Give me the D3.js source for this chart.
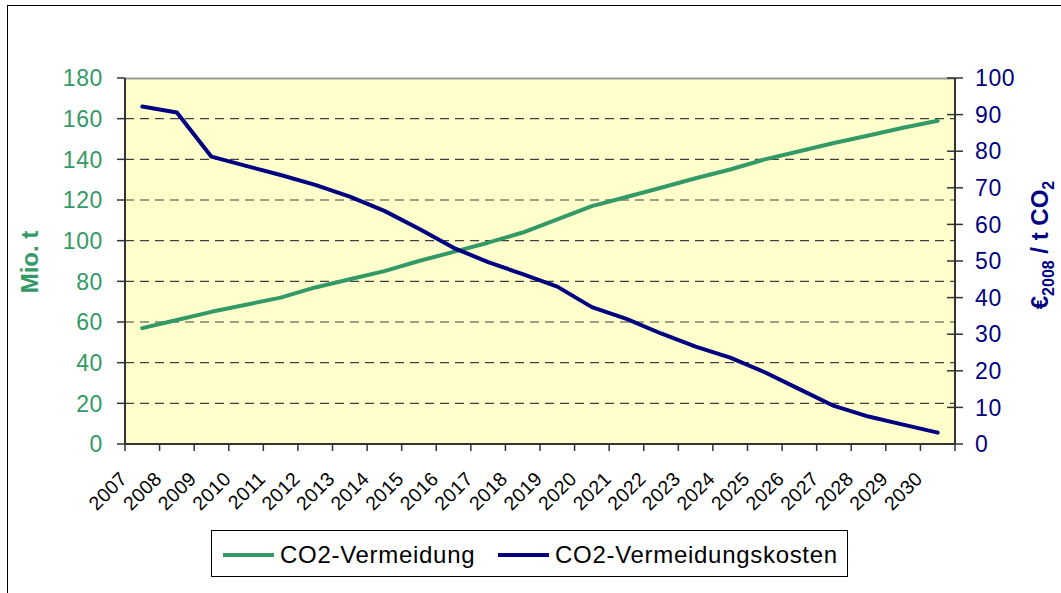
<!DOCTYPE html>
<meta charset="utf-8">
<style>
body { margin: 0; background: #fff; }
svg { font-family: "Liberation Sans", Arial, sans-serif; }
.grid line { stroke: #404040; stroke-width: 1.2px; stroke-dasharray: 9,6; }
.line { fill: none; stroke-width: 4px; stroke-linejoin: round; stroke-linecap: round; }
</style>
<svg width="1061" height="593"></svg>
<script src="https://cdn.jsdelivr.net/npm/d3@7"></script>
<script>

// years on the category axis
var years = d3.range(2007, 2031).map(String);

// CO2-Vermeidung (Mio. t, left axis)
var vermeidung = [57, 61, 65, 68.5, 72, 77, 81, 85, 90, 94.5, 99, 104, 110.5, 117, 121.5, 126, 130.7, 135, 140, 144, 148, 151.7, 155.5, 159];

// CO2-Vermeidungskosten (EUR2008 / t CO2, right axis)
var kosten = [92.2, 90.6, 78.5, 76, 73.5, 70.8, 67.6, 63.7, 58.8, 53.6, 49.7, 46.4, 43, 37.4, 34.2, 30.2, 26.6, 23.6, 19.6, 15, 10.4, 7.5, 5.3, 3.1];

var leftTicks = d3.range(0, 181, 20);
var rightTicks = d3.range(0, 101, 10);

var green = "#339966", navy = "#000080";

var svg = d3.select("svg"),
    margin = {top: 78, right: 106, bottom: 149, left: 125},
    width = 1061 - margin.left - margin.right,
    height = 593 - margin.top - margin.bottom;

// outer chart border
svg.append("rect")
    .attr("x", 7.5).attr("y", 5.5)
    .attr("width", 1070).attr("height", 600)
    .attr("fill", "#fff").attr("stroke", "#000").attr("stroke-width", 1);

var g = svg.append("g").attr("transform", "translate(" + margin.left + "," + margin.top + ")");

var x = d3.scaleBand().domain(years).range([0, width]).padding(0),
    yL = d3.scaleLinear().domain([0, 180]).range([height, 0]),
    yR = d3.scaleLinear().domain([0, 100]).range([height, 0]);

// plot area
g.append("rect")
    .attr("width", width).attr("height", height)
    .attr("fill", "#ffffcc");
g.append("line")
    .attr("x1", 0).attr("x2", width).attr("y1", 0.5).attr("y2", 0.5)
    .attr("stroke", "#999").attr("stroke-width", 2);

// dashed gridlines
g.append("g").attr("class", "grid")
  .selectAll("line")
  .data(leftTicks.filter(function(d) { return d > 0 && d < 180; }))
  .enter().append("line")
    .attr("x1", 0).attr("x2", width)
    .attr("y1", function(d) { return yL(d); })
    .attr("y2", function(d) { return yL(d); });

// left axis
var la = g.append("g");
la.append("line").attr("x1", 0).attr("x2", 0).attr("y1", 0).attr("y2", height)
    .attr("stroke", "#333").attr("stroke-width", 2);
la.selectAll(".tk").data(leftTicks).enter().append("line")
    .attr("x1", -8).attr("x2", 0)
    .attr("y1", function(d) { return yL(d); }).attr("y2", function(d) { return yL(d); })
    .attr("stroke", "#333").attr("stroke-width", 1.5);
la.selectAll("text").data(leftTicks).enter().append("text")
    .attr("x", -22).attr("y", function(d) { return yL(d); })
    .attr("dy", "0.36em").attr("text-anchor", "end")
    .style("font-size", "23px").style("letter-spacing", "0.6px")
    .attr("fill", green)
    .text(function(d) { return d; });

// right axis
var ra = g.append("g").attr("transform", "translate(" + width + ",0)");
ra.append("line").attr("x1", 0).attr("x2", 0).attr("y1", 0).attr("y2", height)
    .attr("stroke", "#333").attr("stroke-width", 2);
ra.selectAll(".tk").data(rightTicks).enter().append("line")
    .attr("x1", -8).attr("x2", 8)
    .attr("y1", function(d) { return yR(d); }).attr("y2", function(d) { return yR(d); })
    .attr("stroke", "#333").attr("stroke-width", 1.5);
ra.selectAll("text").data(rightTicks).enter().append("text")
    .attr("x", 20).attr("y", function(d) { return yR(d); })
    .attr("dy", "0.36em").attr("text-anchor", "start")
    .style("font-size", "23px").style("letter-spacing", "0.6px")
    .attr("fill", navy)
    .text(function(d) { return d; });

// bottom axis
var ba = g.append("g").attr("transform", "translate(0," + height + ")");
ba.append("line").attr("x1", 0).attr("x2", width).attr("y1", 0).attr("y2", 0)
    .attr("stroke", "#333").attr("stroke-width", 2);
ba.selectAll(".tk").data(years.concat(["end"])).enter().append("line")
    .attr("x1", function(d) { return d === "end" ? width : x(d); })
    .attr("x2", function(d) { return d === "end" ? width : x(d); })
    .attr("y1", 0).attr("y2", 7)
    .attr("stroke", "#333").attr("stroke-width", 1.5);
ba.selectAll("text").data(years).enter().append("text")
    .attr("transform", function(d) {
      return "translate(" + (x(d) + x.bandwidth() / 2 - 14) + ",36) rotate(-45)";
    })
    .attr("text-anchor", "end")
    .style("font-size", "19.5px").style("letter-spacing", "0.3px")
    .attr("fill", "#000")
    .text(function(d) { return d; });

// lines
var cx = function(i) { return x(years[i]) + x.bandwidth() / 2; };

g.append("path")
    .datum(vermeidung)
    .attr("class", "line")
    .attr("stroke", green)
    .attr("d", d3.line().x(function(d, i) { return cx(i); }).y(function(d) { return yL(d); }));

g.append("path")
    .datum(kosten)
    .attr("class", "line")
    .attr("stroke", navy)
    .attr("d", d3.line().x(function(d, i) { return cx(i); }).y(function(d) { return yR(d); }));

// axis titles
svg.append("text")
    .attr("transform", "translate(38,262) rotate(-90)")
    .attr("text-anchor", "middle")
    .style("font-size", "24px").style("font-weight", "bold")
    .attr("fill", green)
    .text("Mio. t");

var rt = svg.append("text")
    .attr("transform", "translate(1048,245) rotate(-90)")
    .attr("text-anchor", "middle")
    .style("font-size", "24px").style("font-weight", "bold")
    .attr("fill", navy);
rt.append("tspan").text("€");
rt.append("tspan").attr("dy", 6).style("font-size", "16px").text("2008");
rt.append("tspan").attr("dy", -6).text(" / t CO");
rt.append("tspan").attr("dy", 6).style("font-size", "16px").text("2");

// legend
var legend = svg.append("g");
legend.append("rect")
    .attr("x", 211.5).attr("y", 530.5).attr("width", 636).attr("height", 46)
    .attr("fill", "#fff").attr("stroke", "#000").attr("stroke-width", 1);

var items = [
  {name: "CO2-Vermeidung", color: green, x: 223},
  {name: "CO2-Vermeidungskosten", color: navy, x: 498}
];
var li = legend.selectAll(".item").data(items).enter().append("g");
li.append("line")
    .attr("x1", function(d) { return d.x; }).attr("x2", function(d) { return d.x + 51; })
    .attr("y1", 555).attr("y2", 555)
    .attr("stroke", function(d) { return d.color; }).attr("stroke-width", 4);
li.append("text")
    .attr("x", function(d) { return d.x + 57; }).attr("y", 563)
    .style("font-size", "24px").style("letter-spacing", "0.7px")
    .attr("fill", "#000")
    .text(function(d) { return d.name; });

</script>
